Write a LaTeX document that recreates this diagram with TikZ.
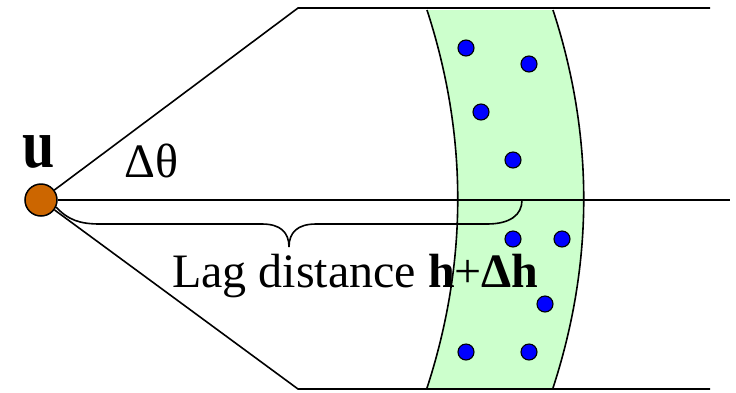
\documentclass[tikz,border=0pt]{standalone}
\usepackage{fontspec}
\usepackage{graphicx}
\setmainfont{Liberation Serif}
\begin{document}
\begin{tikzpicture}[x=1pt,y=-1pt,
  ln/.style={line width=1.6pt,black},
  dot/.style={circle,fill=blue,draw=black,line width=1.1pt,minimum size=16pt,inner sep=0pt},
  origin/.style={circle,fill=orangeu,draw=black,line width=1.5pt,minimum size=32pt,inner sep=0pt},
  lbl/.style={inner sep=0pt,anchor=base west,font=\fontsize{48}{52}\selectfont}]
\definecolor{orangeu}{HTML}{CC6600}
\definecolor{bandgreen}{HTML}{CCFFCC}
\useasboundingbox (0,0) rectangle (736,392);
% band fill
\fill[bandgreen] (427,10) .. controls (468,136) and (468,262) .. (427,388) -- (553,388)
  .. controls (594,262) and (594,136) .. (553,10) -- cycle;
% labels
\node[lbl,font=\fontsize{58}{60}\selectfont\bfseries] (ulbl) at (22,167) {\scalebox{1}[1.2]{u}};
\node[lbl] (dth) at (124,177) {Δθ};
\node[lbl] (lag) at (172,287) {Lag distance \textbf{h}+\textbf{Δh}};
% band edges
\draw[ln] (427,10) .. controls (468,136) and (468,262) .. (427,388);
\draw[ln] (553,10) .. controls (594,136) and (594,262) .. (553,388);
% coordinates
\coordinate (tl) at (298,8);
\coordinate (tr) at (710,8);
\coordinate (bl) at (298,389);
\coordinate (br) at (710,389);
\coordinate (cr) at (730,200);
\node[origin] (u) at (41,200) {};
\draw[ln] (u) -- (tl) -- (tr);
\draw[ln] (u) -- (bl) -- (br);
\draw[ln] (u) -- (cr);
% brace
\draw[ln] (u.-25) .. controls (68,220) and (80,224) .. (100,224) -- (262,224)
  .. controls (280,224) and (289,232) .. (289,247)
  .. controls (289,232) and (298,224) .. (316,224) -- (487,224)
  .. controls (510,224) and (522,215) .. (522,200);
% dots
\foreach \n/\x/\y in {a/466/48,b/529/64,c/481/112,d/513/160,e/513/239,f/562/239,g/545/304,h/466/352,i/529/352}
  \node[dot] (\n) at (\x,\y) {};
\end{tikzpicture}
\end{document}
